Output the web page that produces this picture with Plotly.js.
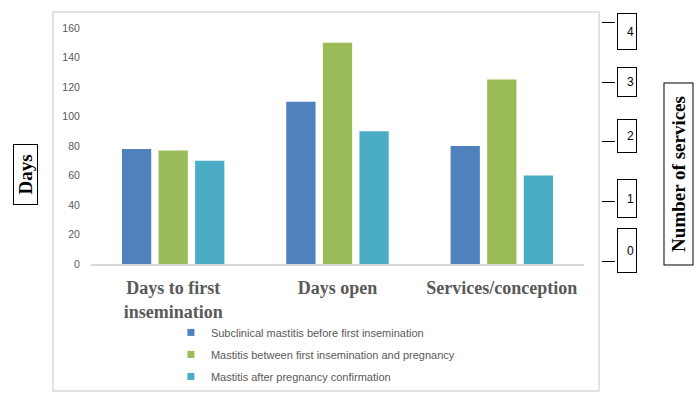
<!DOCTYPE html>
<html>
<head>
<meta charset="utf-8">
<script src="https://cdn.plot.ly/plotly-3.0.1.min.js"></script>
<style>html,body{margin:0;padding:0;background:#fff;}#chart{width:700px;height:397px;}</style>
</head>
<body>
<div id="chart"></div>
<script>
// ---- data ----
const categories = ["Days to first<br>insemination", "Days open", "Services/conception"];
const seriesNames = [
  "Subclinical mastitis before first insemination",
  "Mastitis between first insemination and pregnancy",
  "Mastitis after pregnancy confirmation"
];
const subclinicalBefore = [78, 110, 80];
const betweenInsemPreg = [77, 150, 125];
const afterPregConf = [70, 90, 60];
const leftTicks = [0, 20, 40, 60, 80, 100, 120, 140, 160];
const rightTicks = [0, 1, 2, 3, 4];

// ---- styling ----
const colors = ["#4F81BD", "#9BBB59", "#4BACC6"];
const seriesValues = [subclinicalBefore, betweenInsemPreg, afterPregConf];

const traces = [];
seriesValues.forEach((vals, i) => {
  traces.push({
    type: "bar", x: categories, y: vals, name: seriesNames[i],
    marker: {color: colors[i]}, showlegend: false, hoverinfo: "y"
  });
});
// legend entries with small square swatches
seriesNames.forEach((nm, i) => {
  traces.push({
    type: "scatter", mode: "markers", x: [null], y: [null], name: nm,
    legendgroup: "g" + i,
    marker: {symbol: "square", size: 7, color: colors[i]}, showlegend: true
  });
});
// invisible trace to activate the right-hand axis
traces.push({type: "scatter", mode: "markers", x: [categories[0]], y: [0], yaxis: "y2",
  marker: {opacity: 0}, showlegend: false, hoverinfo: "skip"});

const rightBoxShift = [11, 2.5, 5.5, 0, -9];
const rightBoxH = [39, 33, 28, 24, 31];
const annotations = rightTicks.map((v, i) => ({
  text: String(v), xref: "paper", yref: "y2", x: 1, y: v,
  xanchor: "left", yanchor: "middle", xshift: 2, yshift: rightBoxShift[i],
  showarrow: false, align: "right", valign: "middle",
  width: 14, height: rightBoxH[i], borderpad: 2,
  bordercolor: "#000", borderwidth: 1,
  font: {family: "Liberation Sans, Arial, sans-serif", size: 12, color: "#000"}
}));
annotations.push({
  text: "Days", xref: "paper", yref: "paper", x: -0.125, y: 0.3668,
  xanchor: "center", yanchor: "middle", textangle: -90, showarrow: false,
  width: 59, height: 23, borderpad: 0, bordercolor: "#000", borderwidth: 1,
  font: {family: "Liberation Serif, Times New Roman, serif", size: 19, color: "#000", weight: "bold"}
});
annotations.push({
  text: "Number of services", xref: "paper", yref: "paper", x: 1.1202, y: 0.3709,
  xanchor: "center", yanchor: "middle", textangle: -90, showarrow: false,
  width: 181, height: 28, borderpad: 0, bordercolor: "#000", borderwidth: 1,
  font: {family: "Liberation Serif, Times New Roman, serif", size: 19, color: "#000", weight: "bold"}
});

const layout = {
  width: 700, height: 397,
  margin: {l: 91, r: 85, t: 20, b: 133, autoexpand: false},
  paper_bgcolor: "#fff", plot_bgcolor: "#fff",
  barmode: "group", bargap: 0.332, bargroupgap: 0.2,
  xaxis: {
    domain: [0, 0.9408], type: "category", showgrid: false, zeroline: false,
    showline: true, linecolor: "#d9d9d9", linewidth: 1.5,
    ticks: "outside", ticklen: 7, tickcolor: "rgba(0,0,0,0)", automargin: false,
    tickfont: {family: "Liberation Serif, Times New Roman, serif", size: 18, color: "#595959", weight: "bold"}
  },
  yaxis: {
    range: [0, 165.4], tickvals: leftTicks, showgrid: false, zeroline: false, showline: false,
    ticks: "outside", ticklen: 8, tickcolor: "rgba(0,0,0,0)", automargin: false,
    tickfont: {family: "Liberation Sans, Arial, sans-serif", size: 10.5, color: "#595959"}
  },
  yaxis2: {
    overlaying: "y", side: "right", anchor: "free", position: 1,
    range: [-0.0504, 4.05], tickvals: rightTicks, showticklabels: false,
    showgrid: false, zeroline: false, showline: false,
    ticks: "inside", ticklen: 13, tickcolor: "#000", tickwidth: 1, automargin: false
  },
  showlegend: true,
  legend: {
    x: 0.1525, y: -0.221, xanchor: "left", yanchor: "top", orientation: "v",
    traceorder: "grouped", tracegroupgap: 3, itemclick: false,
    font: {family: "Liberation Sans, Arial, sans-serif", size: 11, color: "#595959"},
    bgcolor: "rgba(0,0,0,0)"
  },
  shapes: [{
    type: "rect", xref: "paper", yref: "paper",
    x0: -0.0725, x1: 0.9695, y0: -0.5205, y1: 1.0328,
    line: {color: "#d9d9d9", width: 1.5}, layer: "below"
  }],
  annotations: annotations,
  hovermode: false
};

Plotly.newPlot("chart", traces, layout, {displayModeBar: false, staticPlot: true});
</script>
</body>
</html>
